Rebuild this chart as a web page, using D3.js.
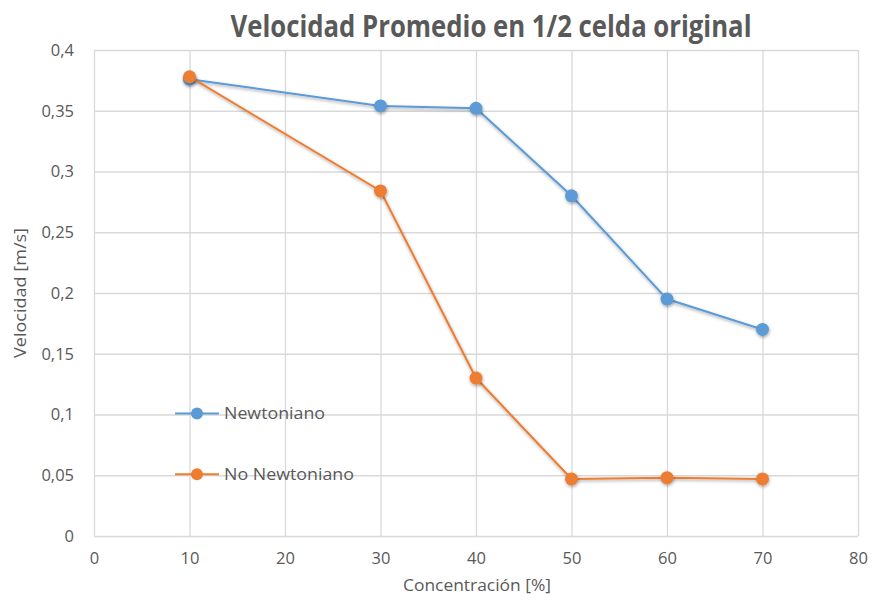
<!DOCTYPE html>
<html>
<head>
<meta charset="utf-8">
<script src="https://cdn.jsdelivr.net/npm/d3@7"></script>
<style>
  body { margin: 0; background: #fff; }
  svg { display: block; }
</style>
</head>
<body>
<svg id="chart" width="876" height="601"></svg>
<script>
// Concentration (%) and average velocity (m/s) per fluid
const concentracion = [10, 30, 40, 50, 60, 70];
const newtoniano = [0.376, 0.354, 0.352, 0.280, 0.195, 0.170];
const noNewtoniano = [0.378, 0.284, 0.130, 0.047, 0.048, 0.047];
const xTicks = [0, 10, 20, 30, 40, 50, 60, 70, 80];
const yTicks = [0, 0.05, 0.1, 0.15, 0.2, 0.25, 0.3, 0.35, 0.4];
const seriesNames = ["Newtoniano", "No Newtoniano"];
const colors = ["#5B9BD5", "#ED7D31"];

const svg = d3.select("#chart");
const font = "'Open Sans', 'Noto Sans', sans-serif";
const textColor = "#595959";
const gridColor = "#d9d9d9";

const plot = { left: 94, right: 858, top: 50, bottom: 536 };
const x = d3.scaleLinear().domain([0, 80]).range([plot.left, plot.right]);
const y = d3.scaleLinear().domain([0, 0.4]).range([plot.bottom, plot.top]);
const fmt = d => String(d).replace(".", ",");

const defs = svg.append("defs");
const shadow = defs.append("filter").attr("id", "shadow")
  .attr("x", "-50%").attr("y", "-50%").attr("width", "200%").attr("height", "200%");
shadow.append("feDropShadow").attr("dx", 0.5).attr("dy", 1.5)
  .attr("stdDeviation", 1.5).attr("flood-color", "#000").attr("flood-opacity", 0.35);

// Gridlines
const gy = svg.append("g")
  .attr("transform", `translate(${plot.left},0)`)
  .call(d3.axisLeft(y).tickValues(yTicks).tickSize(-(plot.right - plot.left)).tickFormat(""));
gy.select(".domain").remove();
gy.selectAll("line").attr("stroke", gridColor).attr("stroke-width", 1.3);

const gx = svg.append("g")
  .attr("transform", `translate(0,${plot.bottom})`)
  .call(d3.axisBottom(x).tickValues(xTicks).tickSize(-(plot.bottom - plot.top)).tickFormat(""));
gx.select(".domain").remove();
gx.selectAll("line").attr("stroke", gridColor).attr("stroke-width", 1.3);

// Tick labels
const yl = svg.append("g")
  .attr("transform", `translate(${plot.left},0)`)
  .call(d3.axisLeft(y).tickValues(yTicks).tickSize(0).tickPadding(20).tickFormat(fmt));
yl.select(".domain").remove();
yl.selectAll("text").attr("font-family", font).attr("font-size", 16.5).attr("fill", textColor);

const xl = svg.append("g")
  .attr("transform", `translate(0,${plot.bottom})`)
  .call(d3.axisBottom(x).tickValues(xTicks).tickSize(0).tickPadding(16).tickFormat(fmt));
xl.select(".domain").remove();
xl.selectAll("text").attr("font-family", font).attr("font-size", 16.5).attr("fill", textColor);

// Series
const allSeries = [newtoniano, noNewtoniano];
const line = d3.line().x((d, i) => x(concentracion[i])).y(d => y(d));
allSeries.forEach((vals, s) => {
  const g = svg.append("g");
  g.append("path").datum(vals)
    .attr("d", line).attr("fill", "none")
    .attr("stroke", colors[s]).attr("stroke-width", 2)
    .attr("filter", "url(#shadow)");
  g.selectAll("circle").data(vals).join("circle")
    .attr("cx", (d, i) => x(concentracion[i]))
    .attr("cy", d => y(d))
    .attr("r", 6.5)
    .attr("fill", colors[s])
    .attr("filter", "url(#shadow)");
});

// Legend inside the plot area
const legendY = [0.1, 0.05].map(v => y(v) - 1);
const legendWidths = [101, 130];
seriesNames.forEach((name, s) => {
  const g = svg.append("g").attr("transform", `translate(175,${legendY[s]})`);
  g.append("line").attr("x1", 0).attr("x2", 44).attr("y1", 0).attr("y2", 0)
    .attr("stroke", colors[s]).attr("stroke-width", 2);
  g.append("circle").attr("cx", 22).attr("cy", 0).attr("r", 6)
    .attr("fill", colors[s]);
  g.append("text").attr("x", 49).attr("y", 0).attr("dy", "0.35em")
    .attr("font-family", font).attr("font-size", 16.5).attr("fill", textColor)
    .attr("textLength", legendWidths[s]).attr("lengthAdjust", "spacingAndGlyphs")
    .text(name);
});

// Titles
svg.append("text")
  .attr("x", 491).attr("y", 37)
  .attr("text-anchor", "middle")
  .attr("font-family", font).attr("font-weight", "bold")
  .attr("font-size", 30).attr("fill", textColor)
  .attr("textLength", 521).attr("lengthAdjust", "spacingAndGlyphs")
  .text("Velocidad Promedio en 1/2 celda original");

svg.append("text")
  .attr("x", 477).attr("y", 591)
  .attr("text-anchor", "middle")
  .attr("font-family", font).attr("font-size", 16).attr("fill", textColor)
  .attr("textLength", 148).attr("lengthAdjust", "spacingAndGlyphs")
  .text("Concentración [%]");

svg.append("text")
  .attr("transform", "translate(26,293) rotate(-90)")
  .attr("text-anchor", "middle")
  .attr("font-family", font).attr("font-size", 16).attr("fill", textColor)
  .attr("textLength", 130).attr("lengthAdjust", "spacingAndGlyphs")
  .text("Velocidad [m/s]");
</script>
</body>
</html>
